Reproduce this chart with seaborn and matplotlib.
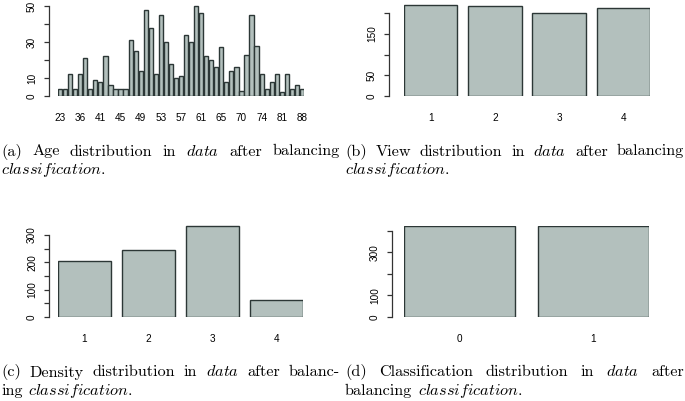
"""
Distribution bar charts after balancing (four panels, R barplot look)
"""

import matplotlib
matplotlib.use("Agg")
import matplotlib.pyplot as plt
import seaborn as sns

W, H, DPI = 685, 401, 100

# panel (a): age distribution
age_values = [23, 28, 32, 34, 36, 37, 38, 40, 41, 42, 43, 44, 45, 46, 47, 48,
              49, 50, 51, 52, 53, 54, 55, 56, 57, 58, 59, 60, 61, 62, 63, 64,
              65, 66, 67, 68, 70, 71, 72, 73, 74, 75, 77, 79, 81, 83, 84, 86, 88]
age_counts = [4, 4, 12, 4, 12, 21, 4, 9, 8, 22, 6, 4, 4, 4, 31, 25,
              14, 48, 38, 12, 45, 30, 18, 10, 11, 34, 30, 50, 46, 22, 20, 16,
              27, 8, 14, 16, 3, 23, 45, 28, 12, 4, 8, 12, 2, 12, 4, 6, 4]
age_yticks = [0, 10, 20, 30, 40, 50]
age_ylabels = ['0', '10', '', '30', '', '50']

# panel (b): view distribution
view_labels = ['1', '2', '3', '4']
view_counts = [220, 218, 200, 212]
view_yticks = [0, 50, 100, 150, 200]
view_ylabels = ['0', '50', '', '150', '']

# panel (c): density distribution
density_labels = ['1', '2', '3', '4']
density_counts = [205, 245, 333, 63]
density_yticks = [0, 50, 100, 150, 200, 250, 300]
density_ylabels = ['0', '', '100', '', '200', '', '300']

# panel (d): classification distribution
class_labels = ['0', '1']
class_counts = [423, 423]
class_yticks = [0, 100, 200, 300, 400]
class_ylabels = ['0', '100', '', '300', '']

BAR_FILL = '#b3c0bd'
BAR_EDGE = '#2c3736'
AXIS_COL = '#333333'
TICK_FS = 7.2
CAP_FS = 11.7

plt.rcParams['mathtext.fontset'] = 'cm'

fig = plt.figure(figsize=(W / DPI, H / DPI), dpi=DPI)


def add_panel(x0, x1, spine_x, base_y, px_per_unit, ymax, labels, counts,
              yticks, ylabels, shown=None, width=0.83):
    n = len(counts)
    top = ymax * px_per_unit
    ax = fig.add_axes([x0 / W, (H - base_y) / H, (x1 - x0) / W, top / H])
    sns.barplot(x=labels, y=counts, ax=ax, color=BAR_FILL, saturation=1,
                edgecolor=BAR_EDGE, linewidth=1.0, width=width)
    ax.set_xlim(-width / 2, n - 1 + width / 2)
    ax.set_ylim(0, ymax)
    for s in ['top', 'right', 'bottom']:
        ax.spines[s].set_visible(False)
    ax.spines['left'].set_position(('outward', (x0 - spine_x) * 72 / DPI))
    ax.spines['left'].set_bounds(yticks[0], yticks[-1])
    ax.spines['left'].set_color(AXIS_COL)
    ax.spines['left'].set_linewidth(0.9)
    ax.set_yticks(yticks)
    ax.set_yticklabels(ylabels, rotation=90, va='center', fontsize=TICK_FS,
                       family='Liberation Sans')
    ax.tick_params(axis='y', length=3.6, width=0.9, color=AXIS_COL, pad=5)
    ax.set_xticks(range(n))
    if shown is None:
        shown = list(labels)
    ax.set_xticklabels(shown, fontsize=TICK_FS, family='Liberation Sans')
    ax.tick_params(axis='x', length=0, pad=12)
    ax.set_xlabel('')
    ax.set_ylabel('')
    ax.grid(False)
    ax.patch.set_visible(False)
    return ax


age_str = [str(a) for a in age_values]
age_shown = [s if i % 4 == 0 else '' for i, s in enumerate(age_str)]

add_panel(58, 304, 49, 96, 1.8, 51, age_str, age_counts,
          age_yticks, age_ylabels, shown=age_shown)
add_panel(404, 650, 389, 96, 0.4133, 222, view_labels, view_counts,
          view_yticks, view_ylabels)
add_panel(58, 303, 49, 317, 0.2733, 336, density_labels, density_counts,
          density_yticks, density_ylabels)
add_panel(404, 649, 392, 317, 0.2156, 424, class_labels, class_counts,
          class_yticks, class_ylabels)


def caption_line(x0, x1, base_y, words, justify):
    renderer = fig.canvas.get_renderer()
    texts = [fig.text(0, 0, w, fontsize=CAP_FS, family='cmr10',
                      va='baseline', ha='left') for w in words]
    widths = [t.get_window_extent(renderer).width for t in texts]
    if justify and len(words) > 1:
        gap = (x1 - x0 - sum(widths)) / (len(words) - 1)
    else:
        gap = CAP_FS * 0.33 * DPI / 72
    x = x0
    for t, w in zip(texts, widths):
        t.set_position((x / W, (H - base_y) / H))
        x += w + gap


caption_line(1, 340, 155.5, ['(a)', 'Age', 'distribution', 'in', '$data$',
                             'after', 'balancing'], True)
caption_line(1, 340, 174, ['$classification$.'], False)
caption_line(345, 684, 155.5, ['(b)', 'View', 'distribution', 'in', '$data$',
                               'after', 'balancing'], True)
caption_line(345, 684, 174, ['$classification$.'], False)
caption_line(1, 340, 376.5, ['(c)', 'Density', 'distribution', 'in', '$data$',
                             'after', 'balanc-'], True)
caption_line(1, 340, 395, ['ing', '$classification$.'], False)
caption_line(345, 684, 376.5, ['(d)', 'Classification', 'distribution', 'in',
                               '$data$', 'after'], True)
caption_line(345, 684, 395, ['balancing', '$classification$.'], False)

fig.savefig('out.png', dpi=DPI)
